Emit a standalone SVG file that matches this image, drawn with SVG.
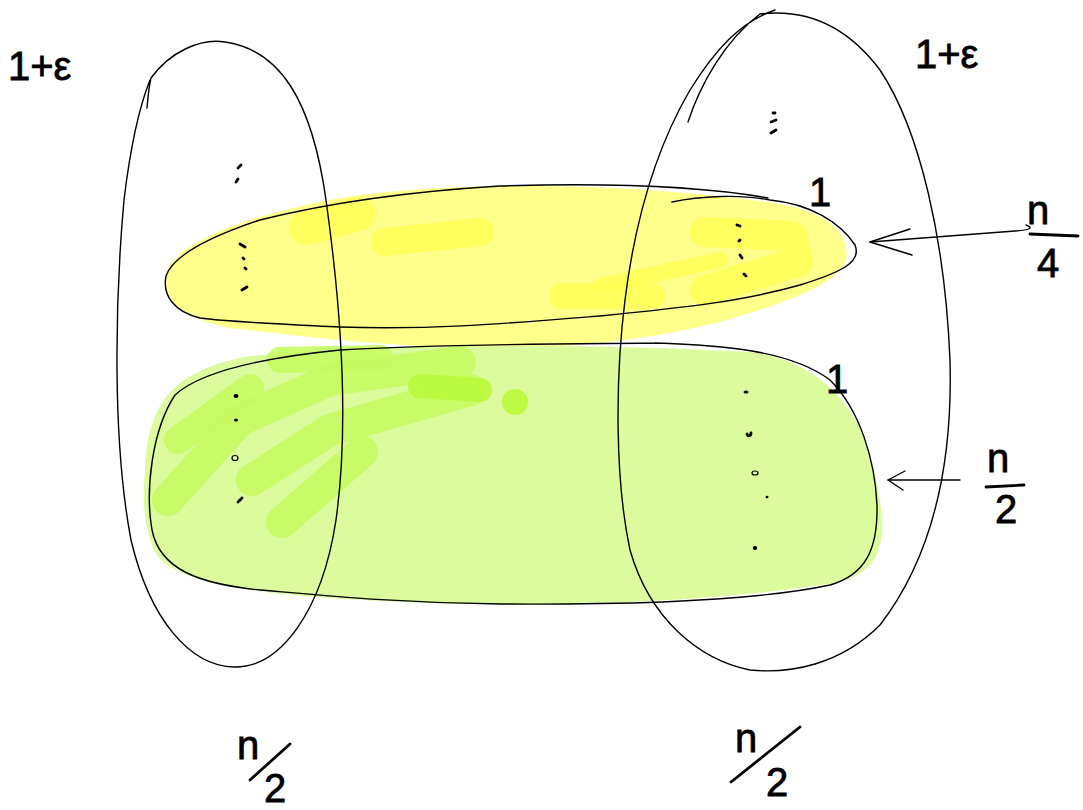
<svg xmlns="http://www.w3.org/2000/svg" width="1083" height="810" viewBox="0 0 1083 810">
<style>
.ol{fill:none;stroke:#000;stroke-width:1.4;stroke-linecap:round;stroke-linejoin:round}
.pen{fill:none;stroke:#000;stroke-width:2.8;stroke-linecap:round;stroke-linejoin:round}
.hy{fill:none;stroke:#ffff55;stroke-linecap:round;stroke-linejoin:round;opacity:0.85}
.hg{fill:none;stroke:#c6fa62;stroke-linecap:round;stroke-linejoin:round;opacity:0.9}
.lbl{font-family:"Liberation Sans",Arial,sans-serif;font-size:40px;fill:#000;stroke:#000;stroke-width:0.8}
.dot{fill:#000}
</style>
<rect width="1083" height="810" fill="#fff"/>
<g id="yellow-fill">
<path d="M 166,272 C 178,240 260,210 360,195 C 480,180 650,184 780,204 C 835,214 850,238 846,260 C 838,285 780,305 720,322 C 650,340 560,350 470,348 C 380,346 290,335 230,328 C 195,322 170,305 166,290 Z" fill="#ffff8c"/>
<path class="hy" stroke-width="34" d="M 306,228 L 358,214"/>
<path class="hy" stroke-width="28" d="M 385,242 L 480,232"/>
<path class="hy" stroke-width="26" d="M 562,296 L 652,296"/>
<path class="hy" stroke-width="30" d="M 705,232 L 792,236 L 798,262 L 705,290"/>
<path class="hy" stroke-width="16" d="M 600,286 L 720,260"/>
</g>
<g id="green-fill">
<path d="M 145,470 C 148,400 175,370 250,356 C 400,342 600,344 750,352 C 830,362 864,420 874,470 C 890,540 884,568 840,582 C 720,602 550,608 400,602 C 260,596 175,585 155,552 C 142,522 143,492 145,470 Z" fill="#dcfb9c"/>
<path class="hg" stroke-width="32" d="M 168,500 L 240,420 L 330,380 L 460,362"/>
<path class="hg" stroke-width="32" d="M 252,480 L 330,430 L 470,390"/>
<path class="hg" stroke-width="32" d="M 282,522 L 362,452"/>
<path class="hg" stroke-width="28" d="M 178,440 L 250,388"/>
<path class="hg" stroke-width="26" d="M 280,360 L 380,358"/>
<path fill="none" stroke="#b8f83a" stroke-width="24" stroke-linecap="round" opacity="0.9" d="M 420,386 L 480,390"/>
<circle cx="515" cy="402" r="13" fill="#b8f83a" opacity="0.9"/>
</g>
<g id="yellow-set">
<path class="ol" d="M 672,202 C 700,196 740,194 770,200 C 810,204 840,222 855,245 C 862,262 842,272 800,285 C 740,302 680,308 600,316 C 500,324 430,330 340,327 C 280,324 230,322 200,318 C 175,312 162,296 166,276 C 172,258 200,240 260,220 C 320,205 400,192 500,186 C 600,183 700,186 768,198"/>
<text class="lbl" x="809" y="206" font-size="28">1</text>
</g>
<g id="green-set">
<path class="ol" d="M 655,343 C 720,345 790,350 830,380 C 860,410 875,460 877,505 C 878,550 865,575 830,585 C 760,600 650,605 500,604 C 400,603 330,596 260,590 C 200,584 160,570 152,530 C 145,490 152,430 175,395 C 200,372 260,358 340,350 C 440,344 560,344 655,343"/>
<text class="lbl" x="826" y="393" font-size="28">1</text>
</g>
<g id="left-set">
<path class="ol" d="M 147,108 C 148,96 149,86 151,78 C 170,52 200,38 225,42 C 280,50 312,100 326,200 C 340,300 350,420 336,520 C 322,612 280,668 234,667 C 190,666 150,620 131,540 C 112,440 115,300 124,200 C 130,150 138,110 150,80"/>
<text class="lbl" x="8" y="80">1+ε</text>
</g>
<g id="right-set">
<path class="ol" d="M 688,122 C 700,85 725,40 760,14 C 810,8 850,30 880,70 C 920,130 945,240 950,360 C 953,470 930,560 880,625 C 840,665 790,674 750,670 C 700,660 650,620 630,550 C 615,480 615,380 625,300 C 635,220 655,150 690,90 C 715,50 740,22 775,10"/>
<text class="lbl" x="915" y="68">1+ε</text>
</g>
<g id="elements">
<path class="pen" d="M 238,168 L 241,165 M 236,182 L 238,179"/>
<path class="pen" d="M 240,244 L 245,247 M 243,258 L 244,259 M 245,268 L 246,269 M 242,290 L 247,287"/>
<path class="pen" d="M 773,113 L 775,113 M 771,122 L 776,120 M 771,133 L 776,130"/>
<path class="pen" d="M 737,225 L 740,226 M 739,241 L 740,240 M 740,255 L 742,258 M 744,274 L 746,276"/>
<ellipse class="dot" cx="236" cy="396" rx="2.5" ry="2"/>
<ellipse class="dot" cx="236" cy="420" rx="2" ry="1.5"/>
<ellipse cx="235" cy="458" rx="3" ry="2.5" fill="none" stroke="#000" stroke-width="1.2"/>
<path class="pen" stroke-width="1.5" d="M 238,502 L 242,498"/>
<ellipse class="dot" cx="746" cy="392" rx="2.5" ry="1.5"/>
<path class="pen" stroke-width="1.2" d="M 747,434 C 748,437 751,436 751,433"/>
<ellipse cx="755" cy="473" rx="3" ry="2" fill="none" stroke="#000" stroke-width="1.2"/>
<ellipse class="dot" cx="767" cy="497" rx="1.5" ry="1.2"/>
<ellipse class="dot" cx="755" cy="548" rx="2.2" ry="2"/>
</g>
<g id="label-n4">
<text class="lbl" x="1027" y="224" font-size="34">n</text>
<path class="pen" d="M 1030,234 L 1078,236"/>
<text class="lbl" x="1037" y="277" font-size="34">4</text>
</g>
<g id="label-n2-right">
<text class="lbl" x="987" y="472" font-size="34">n</text>
<path class="pen" d="M 986,487 L 1024,485"/>
<text class="lbl" x="995" y="523" font-size="34">2</text>
</g>
<g id="label-n2-left">
<text class="lbl" x="237" y="759" font-size="36">n</text>
<path class="pen" d="M 250,780 L 290,744"/>
<text class="lbl" x="264" y="802" font-size="36">2</text>
</g>
<g id="label-n2-mid">
<text class="lbl" x="735" y="752" font-size="38">n</text>
<path class="pen" d="M 731,782 L 800,727"/>
<text class="lbl" x="766" y="796" font-size="38">2</text>
</g>
<g id="connectors">
<path class="ol" stroke-width="1.6" d="M 1026,225 C 1034,228 1030,230 1015,231 C 970,234 920,238 870,242"/>
<path class="ol" stroke-width="1.6" d="M 910,229 L 870,242 L 912,255"/>
<path class="ol" stroke-width="1.2" d="M 960,480 L 888,480"/>
<path class="ol" stroke-width="1.2" d="M 905,471 L 888,480 L 903,490"/>
</g>
</svg>
